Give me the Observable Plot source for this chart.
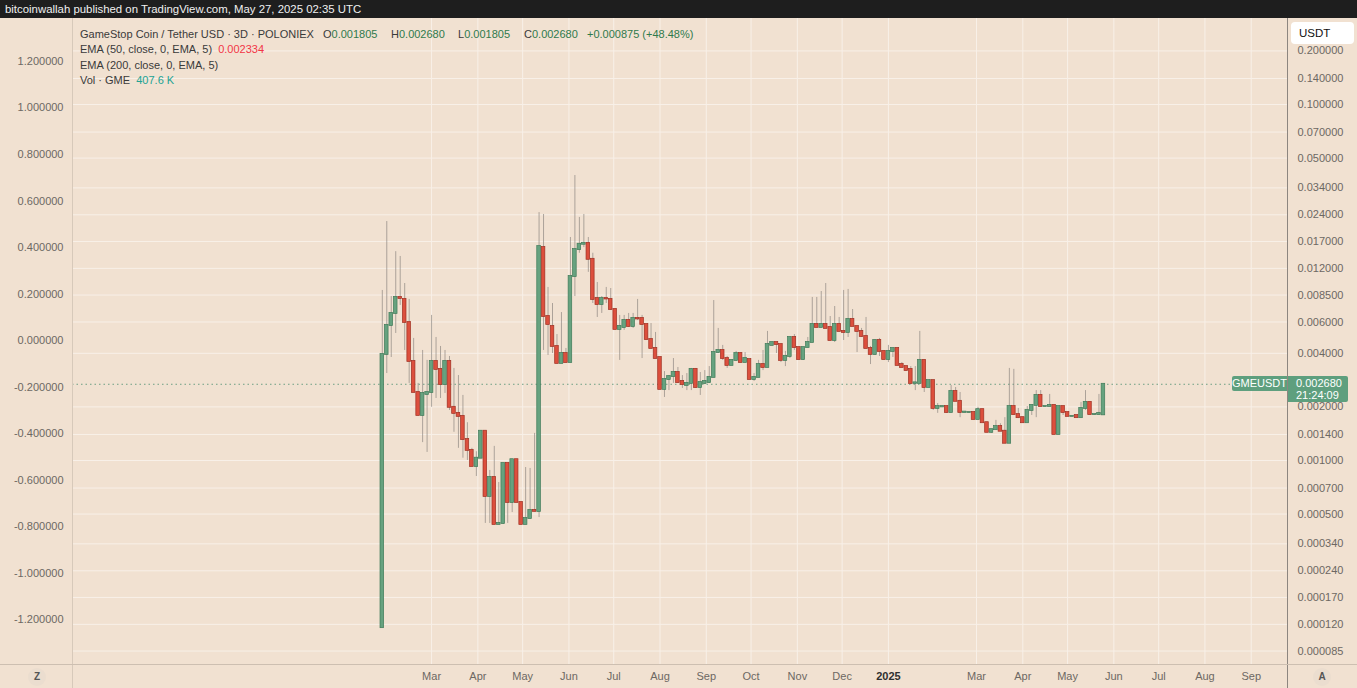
<!DOCTYPE html>
<html>
<head>
<meta charset="utf-8">
<script src="https://cdn.jsdelivr.net/npm/d3@7"></script>
<script src="https://cdn.jsdelivr.net/npm/@observablehq/plot@0.6"></script>
<style>
  body { margin: 0; background: #f1e1d1; font-family: "Liberation Sans", Arial, sans-serif; }
  #wrap { position: relative; width: 1357px; height: 688px; overflow: hidden; background: #f1e1d1; }
  #topbar { position: absolute; left: 0; top: 0; width: 1357px; height: 18px; background: #1e1e1e; color: #f0f0f0;
            font-size: 11.4px; line-height: 18px; padding-left: 5px; box-sizing: border-box; white-space: nowrap; }
  .layer { position: absolute; left: 0; top: 18px; }
  .sep { position: absolute; }
  #legend { position: absolute; left: 80px; top: 26.5px; font-size: 11px; line-height: 15.5px; color: #3a3a3a; white-space: nowrap; }
  #legend .row { position: relative; height: 15.5px; }
  #legend .grp { position: absolute; top: 0; }
  .g { color: #2f7a4c; }
  .r { color: #f23645; }
  .t { color: #22a394; }
  #usdt { position: absolute; left: 1291px; top: 22px; width: 63px; height: 22px; background: #ffffff; border-radius: 4px;
          font-size: 11.5px; line-height: 22px; color: #111; padding-left: 8px; box-sizing: border-box; }
  .btn { position: absolute; width: 18px; height: 18px; border-radius: 9px; background: #ebddcf; color: #555;
         font-size: 10px; line-height: 18px; text-align: center; font-weight: bold; }
  .plbl { position: absolute; background: #5e9f7e; color: #fff; font-size: 11px; }
</style>
</head>
<body>
<div id="wrap">
  <div id="topbar">bitcoinwallah published on TradingView.com, May 27, 2025 02:35 UTC</div>
</div>
<script>
// ---- data (3D candles, GMEUSDT on Poloniex) ----
const startDate = "2024-01-28";
const stepDays = 3;
const open = [
0.000115,0.00394,0.00573,0.00670,0.00824,0.00803,0.00596,0.00360,0.00241,0.00179,
0.00235,0.00241,0.00360,0.00325,0.00267,0.00360,0.00199,0.00184,0.00177,0.00131,
0.00114,0.000925,0.00103,0.00146,0.000628,0.000803,0.000437,0.000443,0.000962,0.000581,
0.00101,0.000581,0.000437,0.000472,0.000524,0.000517,0.0157,0.00644,0.00566,0.00437,
0.00351,0.00399,0.00355,0.0108,0.0153,0.0164,0.0166,0.0135,0.00813,0.00752,
0.00813,0.00803,0.00705,0.00545,0.00559,0.00612,0.00566,0.00628,0.00628,0.00581,
0.00478,0.00426,0.00379,0.00251,0.00285,0.00296,0.00312,0.00278,0.00264,0.00271,
0.00325,0.00257,0.00271,0.00274,0.00293,0.00404,0.00415,0.00374,0.00342,0.00365,
0.00399,0.00355,0.00369,0.00285,0.00293,0.00346,0.00333,0.00443,0.00460,0.00448,
0.00365,0.00384,0.00491,0.00431,0.00369,0.00431,0.00460,0.00581,0.00559,0.00581,
0.00559,0.00472,0.00581,0.00531,0.00524,0.00620,0.00566,0.00531,0.00497,0.00426,
0.00394,0.00472,0.00410,0.00369,0.00410,0.00426,0.00346,0.00337,0.00325,0.00271,
0.00271,0.00365,0.00257,0.00281,0.00196,0.00200,0.00201,0.00186,0.00244,0.00215,
0.00186,0.00186,0.00186,0.00170,0.00193,0.00163,0.00144,0.00149,0.00155,0.00146,
0.00125,0.00201,0.00181,0.00174,0.00163,0.00191,0.00204,0.00232,0.00201,0.00201,
0.00204,0.00140,0.00201,0.00186,0.00177,0.00179,0.00174,0.00196,0.00212,0.00181,
0.00181,0.001805];
const high = [
0.00902,0.0220,0.00834,0.0149,0.0140,0.00987,0.00803,0.00485,0.00271,0.00415,
0.00365,0.00653,0.00491,0.00437,0.00415,0.00384,0.00329,0.00300,0.00232,0.00163,
0.00117,0.00112,0.00146,0.00146,0.000879,0.00120,0.000752,0.000962,0.000962,0.00101,
0.00101,0.000581,0.000913,0.000902,0.00142,0.0247,0.0241,0.00938,0.00762,0.00510,
0.00678,0.00426,0.0179,0.0399,0.0232,0.0241,0.0179,0.0146,0.0100,0.00834,
0.00938,0.00925,0.00714,0.00653,0.00653,0.00670,0.00670,0.00803,0.00653,0.00581,
0.00588,0.00524,0.00379,0.00316,0.00300,0.00374,0.00333,0.00300,0.00308,0.00329,
0.00329,0.00312,0.00320,0.00337,0.00792,0.00552,0.00443,0.00384,0.00365,0.00410,
0.00404,0.00404,0.00369,0.00308,0.00365,0.00415,0.00531,0.00460,0.00460,0.00448,
0.00410,0.00491,0.00510,0.00431,0.00431,0.00491,0.00824,0.00824,0.00890,0.00987,
0.00644,0.00733,0.00636,0.00902,0.00914,0.00705,0.00566,0.00552,0.00636,0.00437,
0.00478,0.00485,0.00410,0.00443,0.00426,0.00426,0.00355,0.00337,0.00337,0.00337,
0.00531,0.00365,0.00281,0.00281,0.00209,0.00202,0.00201,0.00264,0.00257,0.00241,
0.00188,0.00187,0.00186,0.00199,0.00193,0.00163,0.00149,0.00168,0.00161,0.00174,
0.00329,0.00325,0.00196,0.00174,0.00201,0.00204,0.00247,0.00247,0.00202,0.00235,
0.00204,0.00201,0.00201,0.00186,0.00178,0.00179,0.00212,0.00247,0.00212,0.00182,
0.00235,0.002680];
const low = [
0.000115,0.00308,0.00379,0.00517,0.00743,0.00415,0.00271,0.00241,0.00179,0.00126,
0.00111,0.00199,0.00223,0.00223,0.00238,0.00191,0.00144,0.00117,0.00103,0.00100,
0.000925,0.000813,0.00103,0.000443,0.000443,0.000437,0.000437,0.000437,0.000443,0.000510,
0.000581,0.000437,0.000437,0.000472,0.000515,0.000478,0.00415,0.00389,0.00399,0.00351,
0.00351,0.00355,0.00355,0.00834,0.0146,0.0157,0.0114,0.00762,0.00636,0.00670,
0.00762,0.00696,0.00545,0.00365,0.00538,0.00559,0.00552,0.00612,0.00374,0.00478,
0.00426,0.00374,0.00251,0.00226,0.00247,0.00271,0.00271,0.00254,0.00247,0.00247,
0.00254,0.00232,0.00267,0.00271,0.00293,0.00399,0.00365,0.00329,0.00342,0.00360,
0.00355,0.00355,0.00285,0.00278,0.00293,0.00320,0.00333,0.00443,0.00399,0.00355,
0.00337,0.00374,0.00415,0.00369,0.00365,0.00431,0.00460,0.00559,0.00559,0.00552,
0.00472,0.00460,0.00531,0.00472,0.00491,0.00566,0.00404,0.00491,0.00426,0.00346,
0.00389,0.00384,0.00369,0.00355,0.00379,0.00342,0.00333,0.00320,0.00267,0.00247,
0.00271,0.00241,0.00257,0.00191,0.00184,0.00199,0.00184,0.00186,0.00215,0.00174,
0.00186,0.00185,0.00170,0.00170,0.00163,0.00144,0.00142,0.00149,0.00146,0.00125,
0.00125,0.00181,0.00172,0.00163,0.00163,0.00179,0.00174,0.00201,0.00200,0.00201,
0.00140,0.00140,0.00179,0.00177,0.00176,0.00174,0.00174,0.00191,0.00181,0.00180,
0.00181,0.001805];
const close = [
0.00394,0.00573,0.00670,0.00824,0.00813,0.00596,0.00360,0.00241,0.00179,0.00238,
0.00241,0.00360,0.00325,0.00267,0.00360,0.00199,0.00184,0.00177,0.00131,0.00114,
0.000925,0.00103,0.00146,0.000628,0.000803,0.000437,0.000443,0.000962,0.000581,0.00101,
0.000581,0.000437,0.000472,0.000524,0.000518,0.0159,0.00644,0.00581,0.00437,0.00351,
0.00399,0.00355,0.0108,0.0153,0.0164,0.0166,0.0135,0.00803,0.00752,0.00813,
0.00808,0.00705,0.00545,0.00566,0.00612,0.00566,0.00628,0.00624,0.00581,0.00478,
0.00426,0.00374,0.00251,0.00285,0.00296,0.00312,0.00274,0.00267,0.00271,0.00325,
0.00257,0.00274,0.00278,0.00293,0.00404,0.00415,0.00374,0.00342,0.00365,0.00399,
0.00355,0.00374,0.00285,0.00293,0.00346,0.00333,0.00448,0.00460,0.00448,0.00365,
0.00384,0.00491,0.00431,0.00369,0.00431,0.00460,0.00581,0.00559,0.00581,0.00552,
0.00472,0.00581,0.00531,0.00524,0.00620,0.00566,0.00531,0.00497,0.00426,0.00394,
0.00472,0.00410,0.00369,0.00410,0.00426,0.00342,0.00333,0.00320,0.00271,0.00273,
0.00365,0.00257,0.00281,0.00196,0.00201,0.00201,0.00186,0.00244,0.00215,0.00186,
0.00187,0.00186,0.00170,0.00193,0.00163,0.00144,0.00149,0.00155,0.00146,0.00125,
0.00201,0.00181,0.00174,0.00163,0.00191,0.00204,0.00232,0.00201,0.00201,0.00204,
0.00140,0.00201,0.00186,0.00177,0.00177,0.00174,0.00196,0.00212,0.00181,0.00181,
0.00184,0.002680];

const leftTicks = [1.2, 1.0, 0.8, 0.6, 0.4, 0.2, 0.0, -0.2, -0.4, -0.6, -0.8, -1.0, -1.2];
const rightTicks = [0.2, 0.14, 0.1, 0.07, 0.05, 0.034, 0.024, 0.017, 0.012, 0.0085, 0.006, 0.004,
                    0.002, 0.0014, 0.001, 0.0007, 0.0005, 0.00034, 0.00024, 0.00017, 0.00012, 0.000085];
const monthTicks = ["2024-03-01","2024-04-01","2024-05-01","2024-06-01","2024-07-01","2024-08-01",
                    "2024-09-01","2024-10-01","2024-11-01","2024-12-01","2025-01-01","2025-03-01",
                    "2025-04-01","2025-05-01","2025-06-01","2025-07-01","2025-08-01","2025-09-01"];
const lastPrice = 0.002680;
const lastPriceText = "0.002680";
const countdownText = "21:24:09";
const symbolText = "GMEUSDT";
const xDomain = ["2023-07-04T12:00Z", "2025-09-25T07:00Z"];
const yDomain = [0.0000705, 0.3042];
const leftDomain = [-1.3957, 1.384];

// ---- build ----
const DAY = 864e5;
const t0 = Date.parse(startDate);
const candles = open.map((o, i) => ({
  date: new Date(t0 + i * stepDays * DAY), open: o, high: high[i], low: low[i], close: close[i],
  up: close[i] >= o
}));
const ticks = monthTicks.map(d => new Date(d));
const monthOnly = ticks.filter(d => d.getUTCMonth() !== 0);
const yearOnly = ticks.filter(d => d.getUTCMonth() === 0);

const W = 1357, H = 670;
const common = { width: W, height: H, marginLeft: 72, marginRight: 70, marginTop: 0, marginBottom: 23 };
const axisColor = "#6d6863";
const font = "Liberation Sans, Arial, sans-serif";

const chart = Plot.plot({
  ...common,
  style: { background: "transparent", fontFamily: font, fontSize: "11px", overflow: "visible" },
  x: { type: "utc", domain: xDomain.map(d => new Date(d)) },
  y: { type: "log", domain: yDomain, axis: null },
  marks: [
    Plot.ruleX(ticks, { x: d => d, stroke: "#f8f0e8", strokeWidth: 1 }),
    Plot.ruleY(rightTicks, { y: d => d, stroke: "#f8f0e8", strokeWidth: 1 }),
    Plot.ruleY([lastPrice], { stroke: "#6c9f84", strokeDasharray: "1.5,3", strokeWidth: 1 }),
    Plot.ruleX(candles, { x: "date", y1: "low", y2: "high", stroke: "#8f8882", strokeOpacity: 0.7, strokeWidth: 1 }),
    Plot.rect(candles, {
      x1: d => new Date(+d.date - 1.2 * DAY), x2: d => new Date(+d.date + 1.2 * DAY),
      y1: "open", y2: "close",
      fill: d => d.up ? "#66a27f" : "#dc4f3d",
      stroke: d => d.up ? "#3f7a58" : "#9e2f22",
      strokeWidth: 0.7, insetTop: -0.5, insetBottom: -0.5
    }),
    // right price axis (explicit text so every tick label is kept)
    Plot.text(rightTicks, { y: d => d, frameAnchor: "right", dx: 10, textAnchor: "start",
      text: d => d.toFixed(6), fill: axisColor, fontSize: 11 }),
    Plot.axisX(monthOnly, { anchor: "bottom", tickSize: 0, tickPadding: 7, tickFormat: d3.utcFormat("%b"), fill: axisColor, fontSize: 11, label: null }),
    Plot.axisX(yearOnly, { anchor: "bottom", tickSize: 0, tickPadding: 7, tickFormat: d3.utcFormat("%Y"), fill: "#2f2f2f", fontWeight: "bold", fontSize: 11, label: null })
  ]
});

const leftAxis = Plot.plot({
  ...common,
  style: { background: "transparent", fontFamily: font, fontSize: "11px", overflow: "visible" },
  y: { type: "linear", domain: leftDomain },
  marks: [
    Plot.axisY(leftTicks, { anchor: "left", tickSize: 0, tickPadding: 9, tickFormat: d => d.toFixed(6), fill: axisColor, fontSize: 11, label: null })
  ]
});

const wrap = document.getElementById("wrap");
function layer(node) {
  const d = document.createElement("div");
  d.className = "layer";
  d.appendChild(node);
  wrap.appendChild(d);
}
layer(chart);
layer(leftAxis);

function addDiv(html, css, cls) {
  const d = document.createElement("div");
  if (cls) d.className = cls;
  d.innerHTML = html;
  d.style.cssText += css;
  wrap.appendChild(d);
  return d;
}
// separators
addDiv("", "left:72px;top:18px;width:1px;height:670px;background:#d7c9ba;", "sep");
addDiv("", "left:1287px;top:18px;width:1px;height:670px;background:#8d8680;", "sep");
addDiv("", "left:0;top:664px;width:1357px;height:1px;background:#cdbfb1;", "sep");

// legend
addDiv(
  `<div class="row">GameStop Coin / Tether USD · 3D · POLONIEX` +
  `<span class="grp" style="left:243px">O<span class="g">0.001805</span></span>` +
  `<span class="grp" style="left:311px">H<span class="g">0.002680</span></span>` +
  `<span class="grp" style="left:378px">L<span class="g">0.001805</span></span>` +
  `<span class="grp" style="left:444px">C<span class="g">0.002680</span></span>` +
  `<span class="grp g" style="left:507px">+0.000875 (+48.48%)</span></div>` +
  `<div class="row">EMA (50, close, 0, EMA, 5)&nbsp;&nbsp;<span class="r">0.002334</span></div>` +
  `<div class="row">EMA (200, close, 0, EMA, 5)</div>` +
  `<div class="row">Vol · GME&nbsp;&nbsp;<span class="t">407.6 K</span></div>`,
  "", null).id = "legend";

addDiv("USDT", "", null).id = "usdt";
addDiv("Z", "left:28px;top:668px;", "btn");
addDiv("A", "left:1313px;top:668px;", "btn");

// last price labels positioned with the chart's y scale
const yPix = chart.scale("y").apply(lastPrice) + 18;
addDiv(symbolText, `left:1232px;top:${yPix - 8}px;width:55px;height:15px;line-height:15px;text-align:center;border-radius:2px 0 0 2px;`, "plbl");
addDiv(`${lastPriceText}<br>${countdownText}`, `left:1288px;top:${yPix - 8}px;width:60px;height:26px;line-height:12.5px;padding:1px 0 0 8px;box-sizing:border-box;border-radius:0 2px 2px 0;`, "plbl");
</script>
</body>
</html>
